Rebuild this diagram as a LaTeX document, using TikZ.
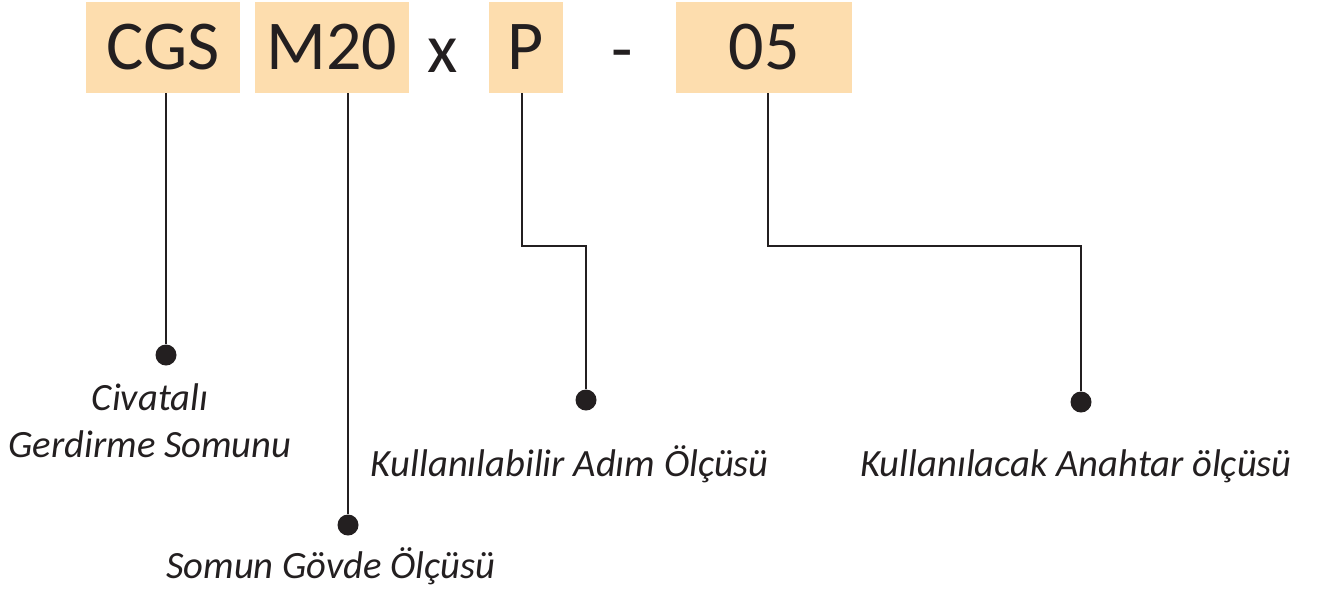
\documentclass[tikz,border=0pt]{standalone}
\usepackage{fontspec}
\setmainfont{Carlito}
\usetikzlibrary{calc,positioning}
\definecolor{boxpeach}{RGB}{253,221,174}
\definecolor{inkdark}{RGB}{35,31,32}
\tikzset{
  codebox/.style={fill=boxpeach,inner sep=0pt,minimum height=45.5pt,text=inkdark,font=\fontsize{35}{40}\selectfont},
  codesign/.style={inner sep=0pt,anchor=base,text=inkdark,font=\fontsize{35}{40}\selectfont},
  leadline/.style={draw=inkdark,line width=1pt},
  pindot/.style={circle,fill=inkdark,inner sep=0pt,minimum size=10.5pt},
  notetext/.style={inner sep=0pt,anchor=base,align=center,text=inkdark,font=\fontsize{19.3}{23.5}\selectfont\itshape},
}
\newcommand{\codecell}[4]{\node[codebox,minimum width=#3] (#1) at (#2,47.5) {#4};}

\begin{document}
\begin{tikzpicture}[x=0.5pt,y=-0.5pt]
        \useasboundingbox (0,0) rectangle (1326,596);
        % code boxes
        \codecell{cgs}{163}{77pt}{CGS}
        \codecell{size}{332}{77pt}{M20}
        \codecell{pitch}{526}{37pt}{P}
        \codecell{key}{764}{88pt}{05}
        \node[codesign] (times) at (443,72) {x};
        \node[codesign] (dash) at (622,72) {-};
        % dots
        \node[pindot] (dcgs) at (166,355) {};
        \node[pindot] (dsize) at (348,525) {};
        \node[pindot] (dpitch) at (586,400) {};
        \node[pindot] (dkey) at (1081,402) {};
        % leaders
        \draw[leadline] (dcgs |- cgs.south) -- (dcgs);
        \draw[leadline] (dsize |- size.south) -- (dsize);
        \draw[leadline] ([xshift=-2pt]pitch.south) -- ++(0,153) -| (dpitch);
        \draw[leadline] ([xshift=2pt]key.south) -- ++(0,153) -| (dkey);
        % notes
        \node[notetext] (ncgs) at (150,457) {Civatalı\\Gerdirme Somunu};
        \node[notetext] (nsize) at (331,578) {Somun Gövde Ölçüsü};
        \node[notetext] (npitch) at (570,476) {Kullanılabilir Adım Ölçüsü};
        \node[notetext] (nkey) at (1076,476) {Kullanılacak Anahtar ölçüsü};
      \end{tikzpicture}
\end{document}
